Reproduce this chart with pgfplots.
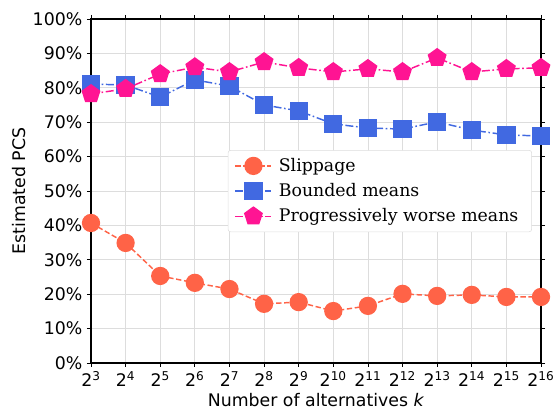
\documentclass[border=0pt]{standalone}
\usepackage{pgfplots}
\pgfplotsset{compat=1.18}
\usepackage{fontspec}
\setmainfont{DejaVu Sans}
\newfontfamily\legfont{DejaVu Serif}
\definecolor{slip}{HTML}{FF6347}
\definecolor{bound}{HTML}{4169E1}
\definecolor{prog}{HTML}{FF1493}
\definecolor{gridc}{HTML}{DDDDDD}

\begin{document}
\begin{tikzpicture}
\begin{axis}[
    name=ax,
    scale only axis,
    width=337.5pt, height=258pt,
    xmin=3, xmax=16, ymin=0, ymax=100,
    xtick={3,...,16},
    xticklabels={2\textsuperscript{3},2\textsuperscript{4},2\textsuperscript{5},2\textsuperscript{6},2\textsuperscript{7},2\textsuperscript{8},2\textsuperscript{9},2\textsuperscript{10},2\textsuperscript{11},2\textsuperscript{12},2\textsuperscript{13},2\textsuperscript{14},2\textsuperscript{15},2\textsuperscript{16}},
    ytick={0,10,...,100},
    yticklabel={\pgfmathprintnumber{\tick}\%},
    /pgf/number format/assume math mode=true,
    tick label style={font=\fontsize{13}{15}\selectfont},
    label style={font=\fontsize{13}{15}\selectfont},
    xlabel={Number of alternatives \textit{k}},
    ylabel={Estimated PCS},
    xlabel style={yshift=2pt},
    ylabel style={yshift=-2pt},
    grid=major,
    major grid style={gridc, line width=0.6pt},
    tick align=outside,
    major tick length=3pt,
    tick style={black, line width=0.6pt},
    axis line style={line width=0.8pt},
    clip=false,
    legend image code/.code={\draw[mark repeat=2,mark phase=2,#1] plot coordinates {(0pt,0pt)(13.5pt,0pt)(27pt,0pt)};},
    legend style={at={(0.98,0.619)}, anchor=north east, font=\legfont\fontsize{13}{15}\selectfont,
        draw=gridc, rounded corners=2pt, row sep=3.5pt, inner xsep=5pt, inner ysep=4pt,
        nodes={inner xsep=5pt}},
    legend cell align=left,
]
\addplot[slip, line width=1.1pt, dash pattern=on 4pt off 2pt,
    mark=*, mark size=6.3pt, mark options={solid, fill=slip, draw=slip}]
coordinates {
(3,40.7) (4,34.9) (5,25.3) (6,23.3) (7,21.5) (8,17.2) (9,17.7) (10,15.1)
(11,16.6) (12,20.1) (13,19.5) (14,19.8) (15,19.2) (16,19.2)
};
\addlegendentry{Slippage}
\addplot[bound, line width=1.1pt, dash pattern=on 6pt off 2pt on 1.2pt off 2pt,
    mark=square*, mark size=6.3pt, mark options={solid, fill=bound, draw=bound}]
coordinates {
(3,81.1) (4,80.8) (5,77.3) (6,82.3) (7,80.5) (8,75.0) (9,73.3) (10,69.5)
(11,68.3) (12,68.0) (13,70.1) (14,67.7) (15,66.3) (16,66.0)
};
\addlegendentry{Bounded means}
\addplot[prog, line width=1.1pt, dash pattern=on 6pt off 2pt on 1.2pt off 2pt,
    mark=pentagon*, mark size=6.8pt, mark options={solid, fill=prog, draw=prog}]
coordinates {
(3,78.2) (4,79.7) (5,84.0) (6,86.0) (7,84.6) (8,87.5) (9,85.8) (10,84.6)
(11,85.5) (12,84.6) (13,88.7) (14,84.6) (15,85.5) (16,85.8)
};
\addlegendentry{Progressively worse means}
\end{axis}
\pgfresetboundingbox
\path ([shift={(-68.25pt,-34.5pt)}]ax.south west) rectangle ([shift={(9.75pt,14.25pt)}]ax.north east);
\end{tikzpicture}
\end{document}
